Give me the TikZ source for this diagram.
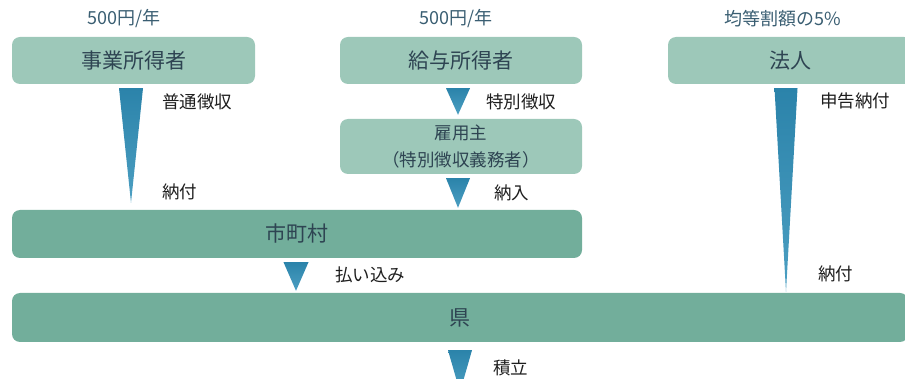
\documentclass[tikz,border=0pt]{standalone}
\usepackage{fontspec}
\setmainfont{Noto Sans CJK JP}
\usepackage{tikz}
\usetikzlibrary{calc}
\definecolor{boxlight}{HTML}{9DC8B9}
\definecolor{boxdark}{HTML}{72AE9B}
\definecolor{boxtext}{HTML}{2E4452}
\definecolor{toptext}{HTML}{3A5E72}
\definecolor{lbltext}{HTML}{1E1E1E}
\definecolor{wedgetop}{HTML}{2B83AA}
\definecolor{wedgebot}{HTML}{4C9FC2}
% #1 from, #2 to, #3 x, #4 half width, #5 gap above target
\newcommand{\taper}[5]{%
  \path[wedge] ($(#3,0 |- #1.south)+(-#4,4)$) -- ($(#3,0 |- #1.south)+(#4,4)$)
    -- ($(#3,0 |- #2.north)+(0,-#5)$) -- cycle;}

\begin{document}
\begin{tikzpicture}[x=1pt,y=-1pt,
  box/.style={rectangle,rounded corners=8pt,inner sep=0pt,text=boxtext,font=\fontsize{21}{24}\selectfont},
  light/.style={box,fill=boxlight},
  dark/.style={box,fill=boxdark},
  lbl/.style={anchor=west,inner sep=0pt,text=lbltext,font=\fontsize{17.5}{20}\selectfont},
  toplbl/.style={inner sep=0pt,text=toptext,font=\fontsize{18}{20}\selectfont},
  wedge/.style={top color=wedgetop,bottom color=wedgebot,draw=none}]
\path[use as bounding box,clip] (0,0) rectangle (905,379);

\node[light,minimum width=243pt,minimum height=47pt] (1) at (133.5,60.5) {事業所得者};
\node[light,minimum width=242pt,minimum height=47pt] (2) at (461,60.5) {給与所得者};
\node[light,minimum width=244pt,minimum height=47pt] (3) at (790,60.5) {法人};
\node[light,minimum width=242pt,minimum height=55pt,align=center,font=\fontsize{17.5}{27}\selectfont] (4) at (461,146.5) {雇用主\\（特別徴収義務者）};
\node[dark,minimum width=570pt,minimum height=48pt] (5) at (297,234) {市町村};
\node[dark,minimum width=896pt,minimum height=49pt] (6) at (460,317.5) {県};

\node[toplbl] (t1) at (124,19) {500円/年};
\node[toplbl] (t2) at (456,19) {500円/年};
\node[toplbl] (t3) at (783,19) {均等割額の5\%};

\taper{1}{5}{131}{12}{7}
\taper{2}{4}{458}{12}{4}
\taper{4}{5}{458}{12}{2}
\taper{5}{6}{296}{12.5}{2}
\taper{3}{6}{786}{11.5}{1}
\coordinate (end) at (460,392);
\path[wedge] ($(end |- 6.south)+(-12,8)$) -- ($(end |- 6.south)+(12,8)$) -- (end) -- cycle;

\node[lbl] (a) at (162,102) {普通徴収};
\node[lbl] (b) at (162,192) {納付};
\node[lbl] (c) at (486,102) {特別徴収};
\node[lbl] (d) at (494,193) {納入};
\node[lbl] (e) at (335,275) {払い込み};
\node[lbl] (f) at (820,101) {申告納付};
\node[lbl] (g) at (818,274) {納付};
\node[lbl] (h) at (493,368) {積立};
\end{tikzpicture}
\end{document}
